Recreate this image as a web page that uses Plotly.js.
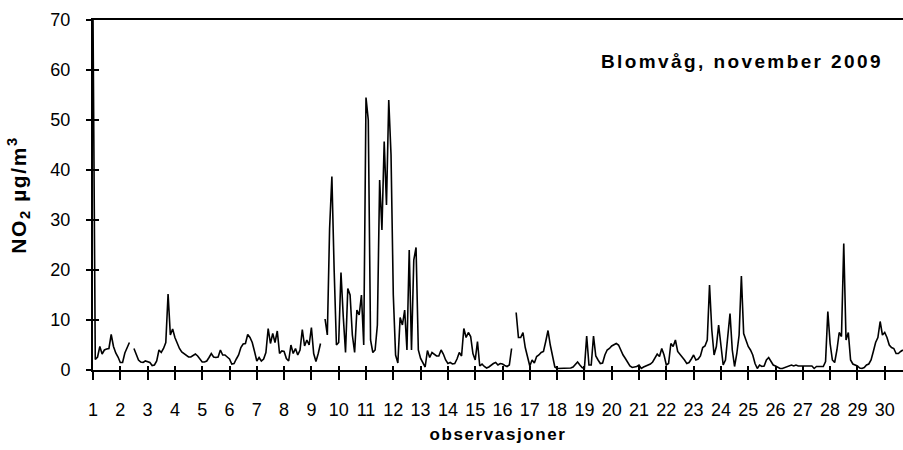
<!DOCTYPE html>
<html>
<head>
<meta charset="utf-8">
<script src="https://cdn.plot.ly/plotly-3.0.1.min.js"></script>
<style>
  html, body { margin: 0; padding: 0; background: #fff; }
  #chart { width: 903px; height: 450px; }
  .annotation-text { letter-spacing: 2.4px; }
  .g-xtitle text, .g-ytitle text { letter-spacing: 1.6px; }
</style>
</head>
<body>
<div id="chart"></div>
<script>
// Day tick labels (x axis, "observasjoner")
const dayLabels = ['1','2','3','4','5','6','7','8','9','10','11','12','13','14','15',
                   '16','17','18','19','20','21','22','23','24','25','26','27','28','29','30'];

// NO2 (µg/m3), Blomvåg, November 2009 – read every 2 hours (00,02,...,22) per day
const nov01 = [71, 2.1, 2.6, 4.7, 3.2, 4.0, 4.2, 4.3, 7.1, 4.7, 3.4, 2.6];
const nov02 = [1.5, 1.5, 3.4, 4.5, 5.5, null, 4.3, 3.0, 2.0, 1.6, 1.5, 1.8];
const nov03 = [1.6, 1.5, 0.9, 1.0, 1.8, 4.0, 3.5, 4.3, 5.5, 15.2, 7.0, 8.2];
const nov04 = [6.5, 5.3, 4.3, 3.6, 3.3, 3.0, 2.6, 2.6, 2.9, 3.2, 2.8, 2.2];
const nov05 = [1.6, 1.6, 1.8, 2.5, 3.3, 2.6, 2.5, 2.6, 4.0, 3.0, 3.0, 2.6];
const nov06 = [2.2, 1.2, 1.3, 2.2, 3.0, 4.5, 5.2, 5.3, 7.1, 6.5, 5.5, 3.7];
const nov07 = [1.8, 2.5, 1.8, 2.2, 3.5, 8.3, 5.3, 7.3, 5.5, 7.8, 3.3, 3.8];
const nov08 = [3.7, 2.3, 1.8, 5.0, 3.3, 4.3, 3.0, 4.0, 8.1, 4.8, 6.0, 5.0];
const nov09 = [8.5, 3.3, 1.7, 3.3, 5.3, null, 10.2, 7.0, 28.3, 38.7, 20.0, 5.0];
const nov10 = [5.5, 19.5, 10.7, 3.5, 16.3, 15.0, 7.0, 3.5, 12.0, 11.0, 15.0, 5.0];
const nov11 = [54.5, 50.0, 6.0, 3.5, 4.0, 9.0, 38.0, 28.0, 45.7, 33.0, 54.0, 43.0];
const nov12 = [15.0, 3.0, 1.4, 10.5, 9.0, 12.0, 4.0, 24.0, 4.0, 22.0, 24.5, 4.0];
const nov13 = [2.3, 1.5, 0.6, 3.9, 2.5, 3.5, 3.2, 2.8, 2.8, 4.0, 3.2, 2.0];
const nov14 = [1.3, 1.5, 1.2, 1.3, 2.2, 3.5, 2.8, 8.3, 6.5, 7.5, 6.7, 3.3];
const nov15 = [2.0, 5.7, 0.8, 1.2, 0.7, 0.4, 0.6, 1.0, 1.3, 1.5, 1.0, 1.3];
const nov16 = [1.2, 0.9, 0.7, 1.0, 4.3, null, 11.5, 6.5, 6.5, 7.5, 4.5, 2.7];
const nov17 = [0.8, 2.0, 1.4, 2.7, 3.0, 3.5, 3.7, 5.7, 7.9, 5.0, 2.5, 0.6];
const nov18 = [0.3, 0.3, 0.3, 0.3, 0.4, 0.3, 0.4, 0.6, 1.2, 1.6, 1.0, 0.5];
const nov19 = [0.3, 6.8, 1.0, 1.0, 6.8, 2.8, 2.0, 1.3, 1.4, 3.0, 4.0, 4.3];
const nov20 = [4.8, 5.1, 5.3, 5.0, 3.8, 3.0, 2.3, 1.5, 0.8, 0.5, 0.6, 0.7];
const nov21 = [1.0, 0.3, 0.6, 0.8, 1.0, 1.2, 1.6, 2.4, 3.2, 2.7, 4.3, 3.0];
const nov22 = [1.0, 1.3, 5.3, 4.7, 6.0, 3.7, 3.2, 2.6, 2.0, 1.3, 1.5, 2.2];
const nov23 = [3.0, 2.0, 2.2, 2.8, 4.5, 4.8, 6.0, 17.0, 8.0, 3.0, 4.7, 9.0];
const nov24 = [5.0, 1.0, 2.0, 6.0, 11.3, 4.0, 0.7, 3.3, 7.0, 18.8, 7.3, 6.0];
const nov25 = [4.7, 4.0, 3.0, 1.3, 0.3, 1.0, 0.7, 0.8, 2.0, 2.5, 1.7, 1.0];
const nov26 = [0.8, 0.5, 0.3, 0.3, 0.5, 0.6, 0.8, 1.0, 0.8, 1.0, 0.8, 0.8];
const nov27 = [0.8, 0.8, 0.8, 0.8, 0.8, 0.3, 0.7, 0.7, 0.7, 0.7, 1.7, 11.7];
const nov28 = [5.3, 2.0, 1.5, 4.0, 7.5, 6.7, 25.3, 6.0, 7.5, 2.0, 1.2, 1.0];
const nov29 = [0.8, 0.4, 0.3, 0.5, 1.0, 1.2, 2.0, 3.7, 5.5, 6.5, 9.7, 7.0];
const nov30 = [7.5, 6.5, 5.0, 4.5, 4.3, 3.3, 3.3, 3.7, 4.0];

const allDays = [nov01, nov02, nov03, nov04, nov05, nov06, nov07, nov08, nov09, nov10,
                 nov11, nov12, nov13, nov14, nov15, nov16, nov17, nov18, nov19, nov20,
                 nov21, nov22, nov23, nov24, nov25, nov26, nov27, nov28, nov29, nov30];

const STEP_HOURS = 2;
const xs = [], ys = [];
allDays.forEach((vals, d) => {
  vals.forEach((v, k) => {
    xs.push(1 + d + (k * STEP_HOURS) / 24);
    ys.push(v);
  });
});

const tickVals = dayLabels.map(Number);
const FONT = 'Liberation Sans, Arial, Helvetica, sans-serif';

const traces = [
  {
    type: 'scatter', mode: 'lines', x: xs, y: ys,
    line: { color: '#000', width: 1.6 },
    connectgaps: false, hoverinfo: 'x+y', showlegend: false
  },
  { type: 'scatter', mode: 'lines', x: [], y: [], xaxis: 'x2', yaxis: 'y2', showlegend: false, hoverinfo: 'skip' }
];

const xRange = [1, 30.67];
const layout = {
  width: 903, height: 450,
  margin: { l: 93, r: 0, t: 20, b: 80 },
  paper_bgcolor: '#fff', plot_bgcolor: '#fff',
  font: { family: FONT, color: '#000', size: 18 },
  showlegend: false,
  xaxis: {
    range: xRange, tickvals: tickVals, ticktext: dayLabels,
    ticks: 'outside', ticklen: 8, tickwidth: 2, tickcolor: '#000',
    showline: true, linewidth: 2, linecolor: '#000', mirror: true,
    showgrid: false, zeroline: false,
    tickfont: { family: FONT, size: 18, color: '#000' },
    ticklabelstandoff: 14,
    title: { text: 'observasjoner', font: { family: FONT, size: 17, weight: 'bold', color: '#000' }, standoff: 10 },
    automargin: false
  },
  xaxis2: {
    overlaying: 'x', anchor: 'y2', side: 'bottom', range: xRange, tickvals: tickVals,
    ticks: 'inside', ticklen: 4, tickwidth: 2, tickcolor: '#000',
    showticklabels: false, showline: false, showgrid: false, zeroline: false
  },
  yaxis: {
    range: [0, 70], tick0: 0, dtick: 10,
    ticks: 'outside', ticklen: 5, tickwidth: 2, tickcolor: '#000',
    showline: true, linewidth: 2, linecolor: '#000',
    showgrid: false, zeroline: false,
    tickfont: { family: FONT, size: 18, color: '#000' },
    ticklabelstandoff: 12,
    title: { text: 'NO<sub>2</sub> µg/m<sup>3</sup>', font: { family: FONT, size: 21, weight: 'bold', color: '#000' }, standoff: 18 },
    automargin: true
  },
  yaxis2: {
    overlaying: 'y', anchor: 'x2', side: 'left', range: [0, 70], tick0: 0, dtick: 10,
    ticks: 'inside', ticklen: 6, tickwidth: 2, tickcolor: '#000',
    showticklabels: false, showline: false, showgrid: false, zeroline: false
  },
  annotations: [{
    text: 'Blomvåg, november 2009', xref: 'paper', yref: 'paper',
    x: 0.978, y: 0.882, xanchor: 'right', yanchor: 'middle', showarrow: false,
    font: { family: FONT, size: 19, weight: 'bold', color: '#000' }
  }]
};

Plotly.newPlot('chart', traces, layout, { displayModeBar: false, staticPlot: true });
</script>
</body>
</html>
